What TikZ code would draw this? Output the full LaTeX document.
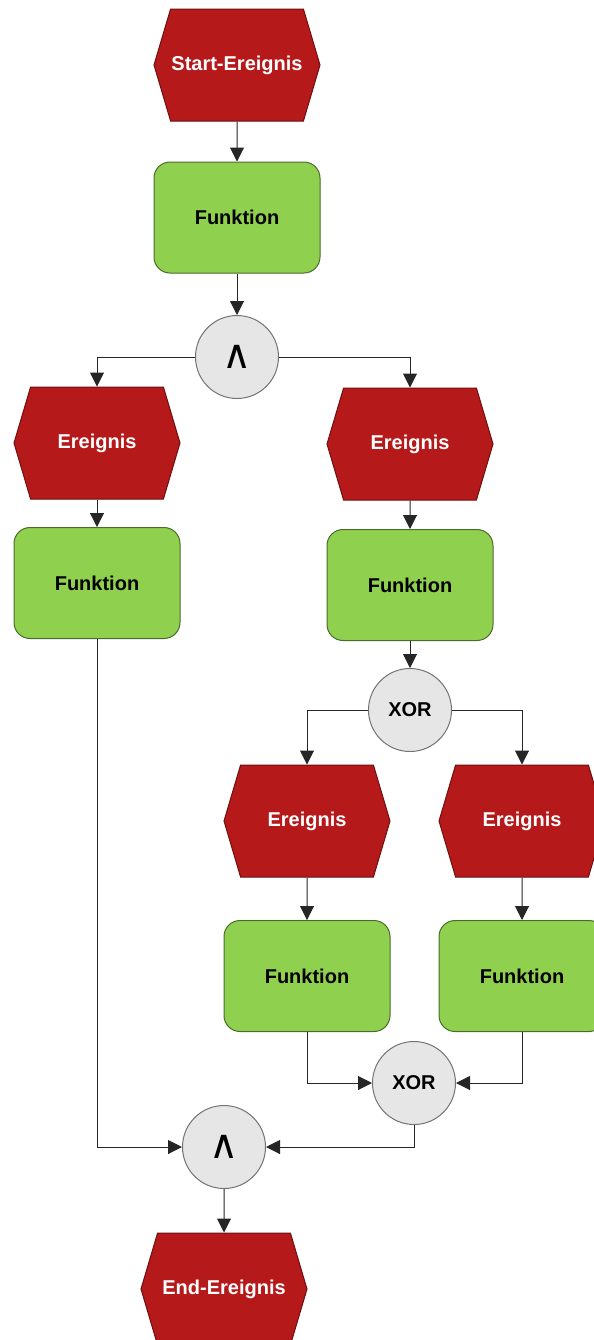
\documentclass[tikz,border=0pt]{standalone}
\usepackage{fontspec}
\setmainfont{Liberation Sans}
\newfontfamily\symfont{DejaVu Sans}
\usetikzlibrary{shapes.symbols,arrows.meta}
\definecolor{evred}{HTML}{B5191A}
\definecolor{evline}{HTML}{6E1010}
\definecolor{fngreen}{HTML}{8FD14F}
\definecolor{fnline}{HTML}{4A6B2A}
\definecolor{gtgray}{HTML}{E6E6E6}
\tikzset{
EVENT/.style={shape=signal, signal to=east and west, signal pointer angle=147,
  minimum width=83pt, minimum height=56pt, inner sep=0pt,
  fill=evred, draw=evline, line width=0.5pt, text=white,
  font=\fontsize{10}{12}\selectfont\bfseries},
FUNC/.style={rectangle, rounded corners=8pt, minimum width=83pt, minimum height=55.5pt,
  fill=fngreen, draw=fnline, line width=0.5pt, text=black,
  font=\fontsize{10}{12}\selectfont\bfseries},
GATE/.style={circle, minimum size=41.5pt, inner sep=0pt,
  fill=gtgray, draw=black!55, line width=0.5pt,
  font=\fontsize{10}{12}\selectfont\bfseries},
LINK/.style={draw=black!85, line width=0.5pt, -{Triangle[length=7pt,width=7pt]}},
}

\begin{document}
\begin{tikzpicture}
[x=0.5pt, y=-0.5pt]
	\useasboundingbox (0,0) rectangle (594,1340);
	\clip (0,0) rectangle (594,1340);
	% upper part
	\node[EVENT] (start) at (237,65) {Start-Ereignis};
	\node[FUNC] (f0) at (237,217.5) {Funktion};
	\node[GATE] (and1) at (237,357) {\symfont\fontsize{20}{20}\selectfont\mdseries ∧};
	% AND branches
	\node[EVENT] (e1) at (97,443) {Ereignis};
	\node[EVENT] (e2) at (410,444) {Ereignis};
	\node[FUNC] (f1) at (97,583) {Funktion};
	\node[FUNC] (f2) at (410,585) {Funktion};
	\node[GATE] (xor1) at (410,710) {XOR};
	% XOR branches
	\node[EVENT] (e3) at (307,821) {Ereignis};
	\node[EVENT] (e4) at (522,821) {Ereignis};
	\node[FUNC] (f3) at (307,976) {Funktion};
	\node[FUNC] (f4) at (522,976) {Funktion};
	\node[GATE] (xor2) at (414,1083) {XOR};
	% join
	\node[GATE] (and2) at (224,1147) {\symfont\fontsize{20}{20}\selectfont\mdseries ∧};
	\node[EVENT] (end) at (224,1289) {End-Ereignis};

	\path[LINK] (start) -- (f0);
	\path[LINK] (f0) -- (and1);
	\path[LINK] (and1.west) -| (e1.north);
	\path[LINK] (and1.east) -| (e2.north);
	\path[LINK] (e1) -- (f1);
	\path[LINK] (e2) -- (f2);
	\path[LINK] (f2) -- (xor1);
	\path[LINK] (xor1.west) -| (e3.north);
	\path[LINK] (xor1.east) -| (e4.north);
	\path[LINK] (e3) -- (f3);
	\path[LINK] (e4) -- (f4);
	\path[LINK] (f3.south) |- (xor2.west);
	\path[LINK] (f4.south) |- (xor2.east);
	\path[LINK] (f1.south) |- (and2.west);
	\path[LINK] (xor2.south) |- (and2.east);
	\path[LINK] (and2) -- (end);
\end{tikzpicture}
\end{document}
